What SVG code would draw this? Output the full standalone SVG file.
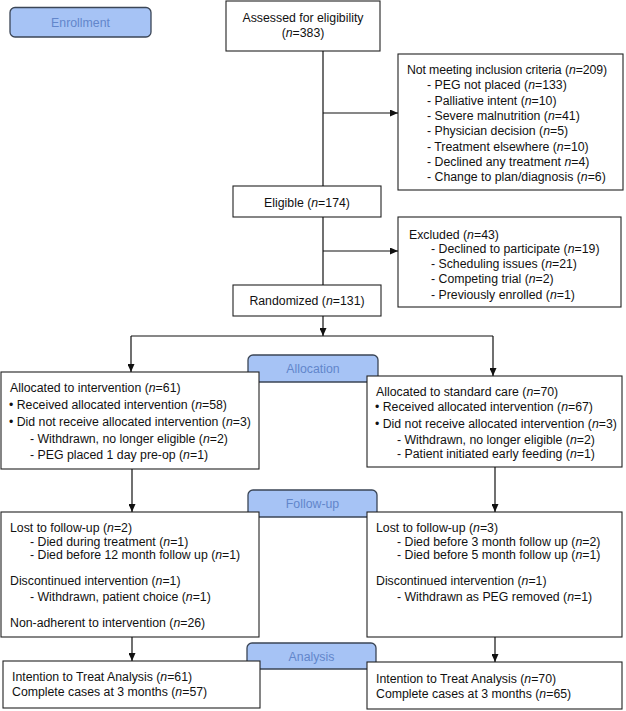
<svg xmlns="http://www.w3.org/2000/svg" width="626" height="711" viewBox="0 0 626 711">
<defs>
<marker id="ah" markerUnits="userSpaceOnUse" markerWidth="8" markerHeight="7" refX="8" refY="3.5" orient="auto">
<path d="M0,0 L8,3.5 L0,7 z" fill="#111"/>
</marker>
<style>
.box{fill:#fff;stroke:#222;stroke-width:1.1}
.lbl{fill:#a6c3f5;stroke:#3b4656;stroke-width:1.3}
.lt{font-family:"Liberation Sans",Arial,sans-serif;font-size:12.3px;fill:#6286cb;text-anchor:middle}
.t{font-family:"Liberation Sans",Arial,sans-serif;font-size:12.3px;fill:#111}
.c{text-anchor:middle}
.ln{fill:none;stroke:#111;stroke-width:1.2}
</style>
</defs>
<rect width="626" height="711" fill="#fff"/>

<g id="label-enrollment"><rect class="lbl" x="10" y="7.5" width="141" height="29.5" rx="5"/><text class="lt" x="80.5" y="26.5">Enrollment</text></g>
<g id="label-allocation"><rect class="lbl" x="248" y="355" width="130" height="27" rx="5"/><text class="lt" x="313" y="373">Allocation</text></g>
<g id="label-followup"><rect class="lbl" x="248" y="490" width="129" height="27" rx="5"/><text class="lt" x="312.5" y="508">Follow-up</text></g>
<g id="label-analysis"><rect class="lbl" x="247" y="643" width="129" height="26" rx="5"/><text class="lt" x="311.5" y="660.5">Analysis</text></g>

<g id="assessed"><rect class="box" x="226" y="1" width="154" height="50"/>
<text class="t c" x="303" y="22">Assessed for eligibility</text>
<text class="t c" x="303" y="37">(<tspan font-style="italic">n</tspan>=383)</text></g>

<g id="not-meeting"><rect class="box" x="398" y="54" width="225" height="136"/>
<text class="t" x="407" y="74" textLength="200" lengthAdjust="spacing">Not meeting inclusion criteria (<tspan font-style="italic">n</tspan>=209)</text>
<text class="t" x="427" y="89.3">- PEG not placed (<tspan font-style="italic">n</tspan>=133)</text>
<text class="t" x="427" y="104.6">- Palliative intent (<tspan font-style="italic">n</tspan>=10)</text>
<text class="t" x="427" y="119.9">- Severe malnutrition (<tspan font-style="italic">n</tspan>=41)</text>
<text class="t" x="427" y="135.2">- Physician decision (<tspan font-style="italic">n</tspan>=5)</text>
<text class="t" x="427" y="150.5">- Treatment elsewhere (<tspan font-style="italic">n</tspan>=10)</text>
<text class="t" x="427" y="165.8">- Declined any treatment <tspan font-style="italic">n</tspan>=4)</text>
<text class="t" x="427" y="181">- Change to plan/diagnosis (<tspan font-style="italic">n</tspan>=6)</text></g>

<g id="eligible"><rect class="box" x="233" y="186" width="148" height="31"/>
<text class="t c" x="307" y="207">Eligible (<tspan font-style="italic">n</tspan>=174)</text></g>

<g id="excluded"><rect class="box" x="398" y="217" width="223" height="90"/>
<text class="t" x="409" y="239">Excluded (<tspan font-style="italic">n</tspan>=43)</text>
<text class="t" x="431" y="253">- Declined to participate (<tspan font-style="italic">n</tspan>=19)</text>
<text class="t" x="431" y="268">- Scheduling issues (<tspan font-style="italic">n</tspan>=21)</text>
<text class="t" x="431" y="283">- Competing trial (<tspan font-style="italic">n</tspan>=2)</text>
<text class="t" x="431" y="299">- Previously enrolled (<tspan font-style="italic">n</tspan>=1)</text></g>

<g id="randomized"><rect class="box" x="233" y="285" width="148" height="31"/>
<text class="t c" x="307" y="304.5">Randomized (<tspan font-style="italic">n</tspan>=131)</text></g>

<g id="alloc-intervention"><rect class="box" x="1" y="372" width="258" height="97"/>
<text class="t" x="10" y="392">Allocated to intervention (<tspan font-style="italic">n</tspan>=61)</text>
<text class="t" x="9" y="408.5">• Received allocated intervention (<tspan font-style="italic">n</tspan>=58)</text>
<text class="t" x="9" y="426">• Did not receive allocated intervention (<tspan font-style="italic">n</tspan>=3)</text>
<text class="t" x="30" y="443">- Withdrawn, no longer eligible (<tspan font-style="italic">n</tspan>=2)</text>
<text class="t" x="30" y="459">- PEG placed 1 day pre-op (<tspan font-style="italic">n</tspan>=1)</text></g>

<g id="alloc-standard"><rect class="box" x="367" y="376" width="255" height="91"/>
<text class="t" x="376" y="396">Allocated to standard care (<tspan font-style="italic">n</tspan>=70)</text>
<text class="t" x="375" y="411">• Received allocated intervention (<tspan font-style="italic">n</tspan>=67)</text>
<text class="t" x="375" y="428">• Did not receive allocated intervention (<tspan font-style="italic">n</tspan>=3)</text>
<text class="t" x="397" y="444">- Withdrawn, no longer eligible (<tspan font-style="italic">n</tspan>=2)</text>
<text class="t" x="397" y="458">- Patient initiated early feeding (<tspan font-style="italic">n</tspan>=1)</text></g>

<g id="followup-intervention"><rect class="box" x="1" y="512" width="258" height="125"/>
<text class="t" x="10" y="532">Lost to follow-up (<tspan font-style="italic">n</tspan>=2)</text>
<text class="t" x="30" y="546">- Died during treatment (<tspan font-style="italic">n</tspan>=1)</text>
<text class="t" x="30" y="559">- Died before 12 month follow up (<tspan font-style="italic">n</tspan>=1)</text>
<text class="t" x="10" y="585">Discontinued intervention (<tspan font-style="italic">n</tspan>=1)</text>
<text class="t" x="30" y="601">- Withdrawn, patient choice (<tspan font-style="italic">n</tspan>=1)</text>
<text class="t" x="10" y="627">Non-adherent to intervention (<tspan font-style="italic">n</tspan>=26)</text></g>

<g id="followup-standard"><rect class="box" x="367" y="512" width="255" height="125"/>
<text class="t" x="376" y="532">Lost to follow-up (<tspan font-style="italic">n</tspan>=3)</text>
<text class="t" x="397" y="546">- Died before 3 month follow up (<tspan font-style="italic">n</tspan>=2)</text>
<text class="t" x="397" y="559">- Died before 5 month follow up (<tspan font-style="italic">n</tspan>=1)</text>
<text class="t" x="376" y="585">Discontinued intervention (<tspan font-style="italic">n</tspan>=1)</text>
<text class="t" x="397" y="601">- Withdrawn as PEG removed (<tspan font-style="italic">n</tspan>=1)</text></g>

<g id="analysis-intervention"><rect class="box" x="3" y="661" width="257" height="47"/>
<text class="t" x="12" y="681">Intention to Treat Analysis (<tspan font-style="italic">n</tspan>=61)</text>
<text class="t" x="12" y="696">Complete cases at 3 months (<tspan font-style="italic">n</tspan>=57)</text></g>

<g id="analysis-standard"><rect class="box" x="367" y="662" width="255" height="47"/>
<text class="t" x="376" y="683">Intention to Treat Analysis (<tspan font-style="italic">n</tspan>=70)</text>
<text class="t" x="376" y="698">Complete cases at 3 months (<tspan font-style="italic">n</tspan>=65)</text></g>

<g id="connectors">
<path class="ln" d="M323,51 V186"/>
<path class="ln" d="M323,113 H398" marker-end="url(#ah)"/>
<path class="ln" d="M323,217 V285"/>
<path class="ln" d="M323,251 H398" marker-end="url(#ah)"/>
<path class="ln" d="M323,316 V336" marker-end="url(#ah)"/>
<path class="ln" d="M131,336 H493"/>
<path class="ln" d="M131,336 V372" marker-end="url(#ah)"/>
<path class="ln" d="M493,336 V376" marker-end="url(#ah)"/>
<path class="ln" d="M132,469 V512" marker-end="url(#ah)"/>
<path class="ln" d="M495,467 V512" marker-end="url(#ah)"/>
<path class="ln" d="M132,637 V661" marker-end="url(#ah)"/>
<path class="ln" d="M495,637 V662" marker-end="url(#ah)"/>
</g>
</svg>
